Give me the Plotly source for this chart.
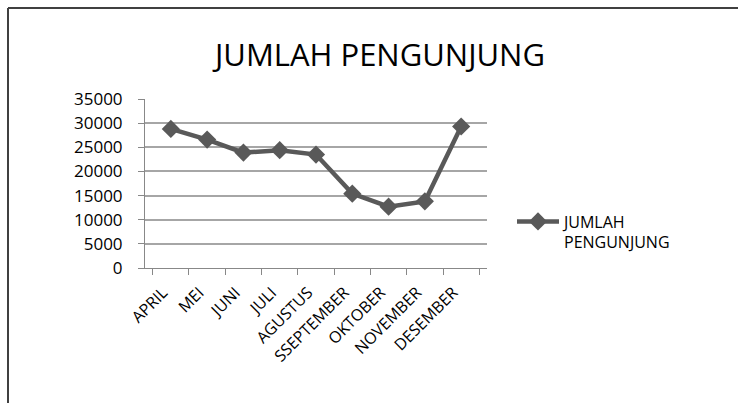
import plotly.graph_objects as go

months = ["APRIL", "MEI", "JUNI", "JULI", "AGUSTUS", "SSEPTEMBER", "OKTOBER", "NOVEMBER", "DESEMBER"]
visitors = [28800, 26600, 23900, 24400, 23500, 15400, 12700, 13800, 29300]
y_ticks = [0, 5000, 10000, 15000, 20000, 25000, 30000, 35000]
y_tick_labels = ["0", "5000", "10000", "15000", "20000", "25000", "30000", "35000"]
series_name = "JUMLAH<br>PENGUNJUNG"
title_text = "JUMLAH PENGUNJUNG"

W, H = 738, 403
L, R, T, B = 145, 251, 99, 135
pw, ph = W - L - R, H - T - B

def px(x):
    return (x - L) / pw

def py(y):
    return 1 - (y - T) / ph

line_col = "#595959"
fig = go.Figure()
fig.add_trace(go.Scatter(
    x=months, y=visitors, mode="lines+markers", name=series_name,
    line=dict(color=line_col, width=4.5),
    marker=dict(symbol="diamond", size=14, color=line_col),
))

fig.update_layout(
    width=W, height=H,
    margin=dict(l=L, r=R, t=T, b=B),
    paper_bgcolor="white", plot_bgcolor="white",
    font=dict(family="Open Sans", color="#000000", size=15),
    title=dict(text=title_text, xref="container", x=380 / W, xanchor="center",
               yref="container", y=1 - 55 / H, yanchor="middle",
               font=dict(size=31, color="#000000", family="Open Sans")),
    showlegend=True,
    legend=dict(x=px(512), xanchor="left", y=py(232), yanchor="middle",
                font=dict(size=16), itemwidth=42, bgcolor="rgba(0,0,0,0)",
                tracegroupgap=0, valign="top"),
    xaxis=dict(type="category", tickson="boundaries", ticks="outside", ticklen=6,
               tickcolor="#888888", showline=True, linecolor="#888888", linewidth=1,
               showgrid=False, tickangle=-45, tickfont=dict(size=16),
               ticklabelstandoff=8, ticklabelshift=-8),
    yaxis=dict(range=[0, 35000], tickvals=y_ticks, ticktext=y_tick_labels,
               ticks="outside", ticklen=6, ticklabelstandoff=12,
               tickcolor="#888888", showline=True, linecolor="#888888", linewidth=1,
               showgrid=True, gridcolor="#a6a6a6", gridwidth=2, zeroline=False,
               tickfont=dict(size=17)),
    shapes=[
        dict(type="line", xref="paper", yref="paper", x0=px(8), x1=px(8),
             y0=py(8), y1=py(420), line=dict(color="#404040", width=2)),
        dict(type="line", xref="paper", yref="paper", x0=px(8), x1=px(760),
             y0=py(8), y1=py(8), line=dict(color="#404040", width=2)),
    ],
)

fig.write_html("out.html")
